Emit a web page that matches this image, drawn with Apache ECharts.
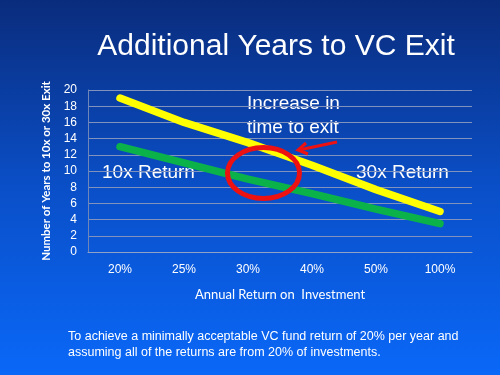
<!DOCTYPE html>
<html><head><meta charset="utf-8">
<script src="https://cdn.jsdelivr.net/npm/echarts@6/dist/echarts.min.js"></script>
<style>html,body{margin:0;padding:0;}#c{width:500px;height:375px;}</style>
</head><body><div id="c"></div>
<script>
var categories = ['20%', '25%', '30%', '40%', '50%', '100%'];
var return30x = [19, 16, 13.5, 10.7, 7.7, 5.0];
var return10x = [13, 11, 9, 7.2, 5.3, 3.5];
var yTicks = [0, 2, 4, 6, 8, 10, 12, 14, 16, 18, 20];

var chart = echarts.init(document.getElementById('c'));
var white = '#ffffff';
chart.setOption({
  animation: false,
  backgroundColor: {type: 'linear', x: 0, y: 0, x2: 0, y2: 1, colorStops: [
    {offset: 0, color: '#0a2c7c'}, {offset: 0.5, color: '#0a4fc8'}, {offset: 1, color: '#0a68f8'}]},
  title: {text: 'Additional Years to VC Exit', left: 271, top: 27, textAlign: 'center',
    textStyle: {color: white, fontFamily: 'Liberation Sans', fontWeight: 'normal', fontSize: 30}},
  grid: {left: 88, right: 28, top: 90, bottom: 123},
  xAxis: {type: 'category', data: categories, boundaryGap: true,
    name: 'Annual Return on  Investment', nameLocation: 'middle', nameGap: 36,
    nameTextStyle: {color: white, fontFamily: 'Lato', fontSize: 13},
    axisLine: {lineStyle: {color: '#8fa3c8', width: 1}}, axisTick: {show: false},
    axisLabel: {color: white, fontFamily: 'Liberation Sans', fontSize: 12, margin: 12}},
  yAxis: {type: 'value', min: yTicks[0], max: yTicks[yTicks.length - 1], interval: 2,
    name: 'Number of Years to 10x or 30x Exit', nameLocation: 'middle', nameGap: 35, nameRotate: 90,
    nameTextStyle: {color: white, fontFamily: 'Lato', fontSize: 11.5, fontWeight: 'bold'},
    axisLine: {show: true, lineStyle: {color: '#6f86b8', width: 1}}, axisTick: {show: false},
    axisLabel: {color: white, fontFamily: 'Liberation Sans', fontSize: 12, margin: 11},
    splitLine: {lineStyle: {color: '#8193bd', width: 1}}},
  series: [
    {name: '10x Return', type: 'line', data: return10x, symbol: 'none',
      lineStyle: {color: '#0bb24a', width: 7.5, cap: 'round'}, z: 3},
    {name: '30x Return', type: 'line', data: return30x, symbol: 'none',
      lineStyle: {color: '#ffff00', width: 7.5, cap: 'round'}, z: 4}
  ],
  graphic: [
    {type: 'text', left: 102, top: 163, style: {text: '10x Return', fill: white, font: '19px "Liberation Sans"'}},
    {type: 'text', left: 356, top: 163, style: {text: '30x Return', fill: white, font: '19px "Liberation Sans"'}},
    {type: 'text', left: 247, top: 92, style: {text: 'Increase in\ntime to exit', fill: white, font: '19px "Liberation Sans"', lineHeight: 24}},
    {type: 'ellipse', shape: {cx: 263.5, cy: 173, rx: 36, ry: 25.5}, style: {fill: 'none', stroke: '#ee1111', lineWidth: 5}, z: 10},
    {type: 'line', shape: {x1: 337, y1: 142, x2: 299, y2: 150}, style: {stroke: '#ee1111', lineWidth: 3}, z: 10},
    {type: 'polyline', shape: {points: [[306, 143], [298, 150], [308, 154]]}, style: {stroke: '#ee1111', lineWidth: 3, fill: 'none'}, z: 10},
    {type: 'text', left: 68, top: 329, style: {text: 'To achieve a minimally acceptable VC fund return of 20% per year and\nassuming all of the returns are from 20% of investments.', fill: white, font: '12.5px "Liberation Sans"', lineHeight: 16}}
  ]
});
</script></body></html>
